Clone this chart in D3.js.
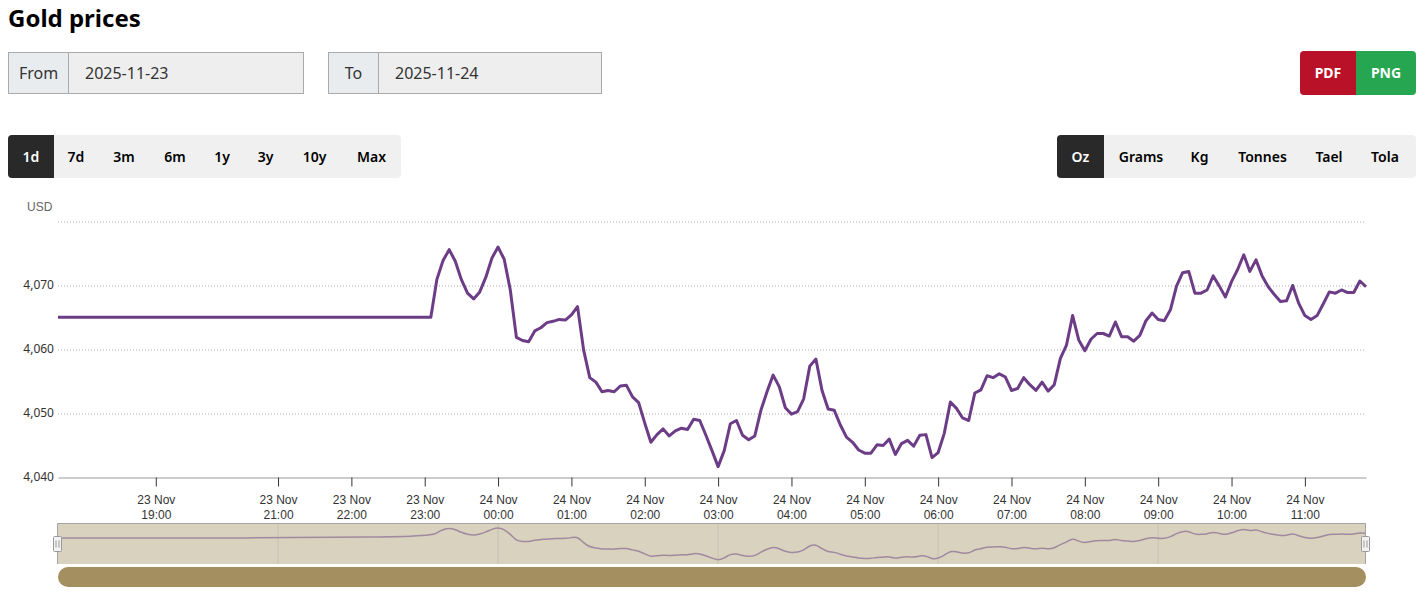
<!DOCTYPE html>
<html>
<head>
<meta charset="utf-8">
<title>Gold prices</title>
<script src="https://cdn.jsdelivr.net/npm/d3@7"></script>
<style>
	html, body { margin: 0; padding: 0; background: #fff; overflow: hidden; }
	body { width: 1426px; height: 600px; position: relative; font-family: "Noto Sans", sans-serif; color: #212529; }
	h1 { position: absolute; left: 8px; top: 1px; margin: 0; font-size: 24px; line-height: 34px; font-weight: 700; color: #000; }
	.dateGroup { position: absolute; top: 52px; height: 42px; display: flex; box-sizing: border-box; border: 1px solid #aaa; background: #eee; font-size: 16px; line-height: 40px; color: #333; }
	.dateGroup .label { background: #e9ecef; border-right: 1px solid #aaa; text-align: center; box-sizing: content-box; }
	.dateGroup .value { padding-left: 16px; }
	.btnBar { position: absolute; top: 135px; height: 43px; display: flex; background: #f0f0f0; border-radius: 4px; overflow: hidden; font-size: 14px; line-height: 43px; font-weight: 600; color: #000; }
	.btnBar div { text-align: center; }
	.btnBar .active { background: #292929; color: #fff; }
	.exportBar { position: absolute; left: 1300px; top: 51px; height: 44px; display: flex; border-radius: 4px; overflow: hidden; font-size: 14px; line-height: 44px; font-weight: 700; color: #fff; }
	.exportBar div { text-align: center; }
	#chart { position: absolute; left: 0; top: 190px; }
	.grid line { stroke: #aaa; stroke-dasharray: 1,2; }
	.grid path { display: none; }
	.yLabels text { font-family: "Noto Sans", sans-serif; font-size: 12px; fill: #333; }
	.xAxis text { font-family: "Liberation Sans", Arial, sans-serif; font-size: 12px; fill: #333; }
	.xAxis path { stroke: #999; }
	.xAxis line { stroke: #333; }
</style>
</head>
<body>
<h1>Gold prices</h1>
<div id="controls"></div>
<div id="chart"></div>
<script>
//chart values
var flatPrice = 4065.05;
var firstLiveSlot = 61; //line stays flat up to this slot
var prices = [
	4065.05, 4071.0, 4073.9, 4075.6, 4073.8, 4070.9, 4068.8, 4067.9, 4069.0, 4071.3,
	4074.3, 4076.0, 4074.1, 4069.3, 4061.9, 4061.4, 4061.2, 4062.9, 4063.4, 4064.2,
	4064.4, 4064.7, 4064.6, 4065.4, 4066.7, 4059.9, 4055.6, 4054.9, 4053.4, 4053.6,
	4053.4, 4054.3, 4054.4, 4052.6, 4051.7, 4048.5, 4045.5, 4046.7, 4047.6, 4046.5,
	4047.3, 4047.7, 4047.5, 4049.1, 4048.9, 4046.6, 4044.2, 4041.7, 4044.2, 4048.4,
	4048.9, 4046.6, 4045.9, 4046.5, 4050.5, 4053.4, 4056.0, 4054.2, 4050.9, 4049.9,
	4050.3, 4052.3, 4057.4, 4058.5, 4053.6, 4050.7, 4050.5, 4048.2, 4046.3, 4045.5,
	4044.3, 4043.8, 4043.8, 4045.1, 4045.0, 4046.0, 4043.6, 4045.3, 4045.8, 4044.9,
	4046.6, 4046.7, 4043.1, 4043.9, 4046.9, 4051.8, 4050.8, 4049.3, 4048.9, 4053.2,
	4053.7, 4055.9, 4055.6, 4056.2, 4055.7, 4053.6, 4053.9, 4055.6, 4054.5, 4053.6,
	4054.9, 4053.5, 4054.5, 4058.6, 4060.7, 4065.3, 4061.5, 4059.8, 4061.6, 4062.5,
	4062.5, 4062.1, 4064.3, 4062.0, 4062.0, 4061.3, 4062.2, 4064.5, 4065.7, 4064.7,
	4064.5, 4066.2, 4069.9, 4072.0, 4072.2, 4068.8, 4068.8, 4069.3, 4071.5, 4069.9,
	4068.2, 4070.6, 4072.5, 4074.8, 4072.2, 4074.0, 4071.5, 4069.8, 4068.6, 4067.5,
	4067.6, 4070.0, 4067.2, 4065.3, 4064.7, 4065.3, 4067.1, 4069.0, 4068.8, 4069.3,
	4068.9, 4068.9, 4070.7, 4069.8
];
var priceTicks = [4040, 4050, 4060, 4070, 4080];
var tickSlots = [16, 36, 48, 60, 72, 84, 96, 108, 120, 132, 144, 156, 168, 180, 192, 204];
var tickDays = ["23 Nov", "23 Nov", "23 Nov", "23 Nov", "24 Nov", "24 Nov", "24 Nov", "24 Nov", "24 Nov", "24 Nov", "24 Nov", "24 Nov", "24 Nov", "24 Nov", "24 Nov", "24 Nov"];
var tickHours = ["19:00", "21:00", "22:00", "23:00", "00:00", "01:00", "02:00", "03:00", "04:00", "05:00", "06:00", "07:00", "08:00", "09:00", "10:00", "11:00"];
var navGridSlots = [36, 72, 108, 144, 180];
var rangeLabels = ["1d", "7d", "3m", "6m", "1y", "3y", "10y", "Max"];
var unitLabels = ["Oz", "Grams", "Kg", "Tonnes", "Tael", "Tola"];

//chart frame, the svg starts 190px down the page
var svgWidth = 1426,
	svgHeight = 410,
	plotLeft = 58,
	plotRight = 1366,
	plotTop = 31.5,
	plotBottom = 287.5,
	navTop = 333.5,
	navBottom = 374,
	scrollTop = 377,
	scrollHeight = 20;

function initialize() {
	createControls();
	makeChart();
}

//title row buttons and date boxes
function createControls() {
	var controls = d3.select("#controls");

	var dates = [
		{ label: "From", value: "2025-11-23", left: 8, width: 296, labelWidth: 59 },
		{ label: "To", value: "2025-11-24", left: 328, width: 274, labelWidth: 49 }
	];
	dates.forEach(function(d) {
		var group = controls.append("div")
			.attr("class", "dateGroup")
			.style("left", d.left + "px")
			.style("width", d.width + "px");
		group.append("div").attr("class", "label").style("width", d.labelWidth + "px").text(d.label);
		group.append("div").attr("class", "value").text(d.value);
	});

	var exportBar = controls.append("div").attr("class", "exportBar");
	exportBar.append("div").style("width", "56px").style("background", "#b91228").text("PDF");
	exportBar.append("div").style("width", "60px").style("background", "#26a651").text("PNG");

	createBar(controls, rangeLabels, 8, [46, 44, 52, 50, 44, 43, 55, 59]);
	createBar(controls, unitLabels, 1057, [47, 74, 43, 83, 50, 62]);
}

function createBar(parent, labels, left, widths) {
	var bar = parent.append("div")
		.attr("class", "btnBar")
		.style("left", left + "px");
	bar.selectAll("div")
		.data(labels)
		.enter()
		.append("div")
			.attr("class", function(d, i) { return i == 0 ? "active" : null; })
			.style("width", function(d, i) { return widths[i] + "px"; })
			.text(function(d) { return d; });
}

function makeChart() {
	var svg = d3.select("#chart")
		.append("svg")
			.attr("width", svgWidth)
			.attr("height", svgHeight)
			.style("display", "block");

	var lastSlot = firstLiveSlot + prices.length - 1;

	//x runs on slots of five minutes, hours without trades take less room
	var x = d3.scaleLinear()
		.domain([0, lastSlot])
		.range([plotLeft, plotRight]);

	var y = d3.scaleLinear()
		.domain([4040, 4080])
		.range([plotBottom, plotTop]);

	//points with their slot, the flat part only needs its first point
	var series = [{ slot: 0, price: flatPrice }].concat(prices.map(function(p, i) {
		return { slot: firstLiveSlot + i, price: p };
	}));

	//dotted grid
	svg.append("g")
		.attr("class", "grid")
		.attr("transform", "translate(" + plotLeft + ",0)")
		.call(d3.axisLeft(y).tickValues(priceTicks.slice(1)).tickSize(-(plotRight - plotLeft)).tickFormat(""));

	//price labels, 4,080 is left out because USD sits there
	var yLabels = svg.append("g").attr("class", "yLabels");
	yLabels.selectAll("text")
		.data(priceTicks.slice(0, 4))
		.enter()
		.append("text")
			.attr("x", 54)
			.attr("y", function(d) { return y(d) + 3; })
			.style("text-anchor", "end")
			.text(d3.format(","));

	svg.append("text")
		.attr("x", 27)
		.attr("y", 21)
		.style("font-family", "'Liberation Sans', Arial, sans-serif")
		.style("font-size", "12px")
		.style("fill", "#666")
		.text("USD");

	//time axis
	var xAxis = svg.append("g")
		.attr("class", "xAxis")
		.attr("transform", "translate(0," + plotBottom + ")")
		.call(d3.axisBottom(x).tickValues(tickSlots).tickSize(9).tickSizeOuter(0).tickFormat(""));

	xAxis.selectAll(".tick").each(function(d, i) {
		var label = d3.select(this).select("text")
			.attr("y", 0)
			.attr("dy", null);
		label.append("tspan").attr("x", 0).attr("y", 26).text(tickDays[i]);
		label.append("tspan").attr("x", 0).attr("y", 41).text(tickHours[i]);
	});

	//price line
	var line = d3.line()
		.x(function(d) { return x(d.slot); })
		.y(function(d) { return y(d.price); });

	svg.append("path")
		.datum(series)
		.attr("d", line)
		.style("fill", "none")
		.style("stroke", "#6c3d86")
		.style("stroke-width", 3)
		.style("stroke-linejoin", "round");

	makeNavigator(svg, x, series);
}

//small overview chart and the scrollbar under it
function makeNavigator(svg, x, series) {
	var navY = d3.scaleLinear()
		.domain(d3.extent(prices))
		.range([navBottom - 3.5, navTop + 4]);

	svg.append("rect")
		.attr("x", plotLeft)
		.attr("y", navTop)
		.attr("width", plotRight - plotLeft)
		.attr("height", navBottom - navTop)
		.style("fill", "#d9d2bf");

	svg.selectAll(".navGrid")
		.data(navGridSlots)
		.enter()
		.append("line")
			.attr("class", "navGrid")
			.attr("x1", function(d) { return x(d); })
			.attr("x2", function(d) { return x(d); })
			.attr("y1", navTop)
			.attr("y2", navBottom)
			.style("stroke", "#c9c2af");

	var navLine = d3.line()
		.curve(d3.curveBasis)
		.x(function(d) { return x(d.slot); })
		.y(function(d) { return navY(d.price); });

	svg.append("path")
		.datum(series)
		.attr("d", navLine)
		.style("fill", "none")
		.style("stroke", "#a08aa0")
		.style("stroke-width", 1.5);

	//outline on top and both sides
	svg.append("path")
		.attr("d", "M" + (plotLeft - 0.5) + "," + navBottom + "V" + navTop + "H" + (plotRight - 0.5) + "V" + navBottom)
		.style("fill", "none")
		.style("stroke", "#a3a3a3");

	//handles
	[plotLeft - 0.5, plotRight - 0.5].forEach(function(hx) {
		var handle = svg.append("g").attr("transform", "translate(" + hx + "," + (navTop + 13) + ")");
		handle.append("rect")
			.attr("x", -4)
			.attr("y", 0)
			.attr("width", 8)
			.attr("height", 15)
			.attr("rx", 1)
			.style("fill", "#f2f2f2")
			.style("stroke", "#999");
		handle.append("path")
			.attr("d", "M-1.5,4V11M1.5,4V11")
			.style("stroke", "#999");
	});

	svg.append("rect")
		.attr("x", plotLeft)
		.attr("y", scrollTop)
		.attr("width", plotRight - plotLeft)
		.attr("height", scrollHeight)
		.attr("rx", 10)
		.style("fill", "#a38f5f");
}

document.addEventListener('DOMContentLoaded', initialize)
</script>
</body>
</html>
